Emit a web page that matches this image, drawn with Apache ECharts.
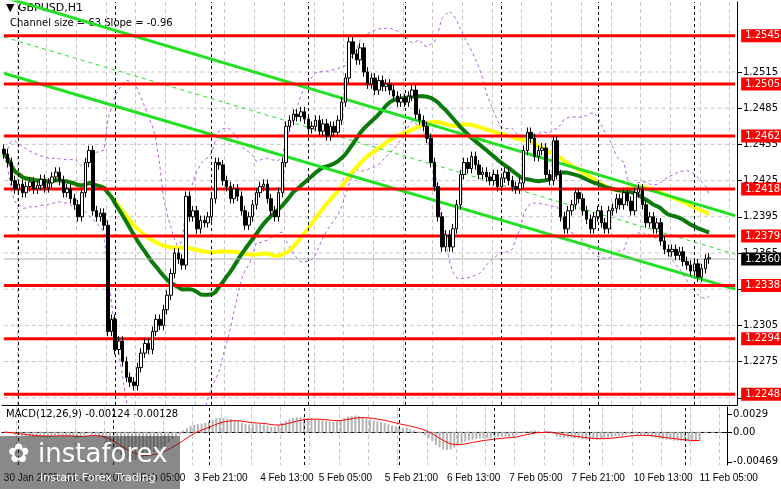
<!DOCTYPE html>
<html><head><meta charset="utf-8">
<script src="https://cdn.jsdelivr.net/npm/echarts@6/dist/echarts.min.js"></script>
<style>html,body{margin:0;padding:0;background:#fff}#c{width:781px;height:489px}</style>
</head><body><div id="c"></div>
<script>
const closes=[1.2447,1.2440,1.2425,1.2418,1.2422,1.2415,1.2420,1.2424,1.2418,1.2421,1.2426,1.2419,1.2423,1.2428,1.2432,
1.2425,1.2415,1.2418,1.2410,1.2405,1.2395,1.2415,1.2440,1.2450,1.2400,1.2395,1.2398,1.2388,
1.2300,1.2310,1.2285,1.2292,1.2275,1.2262,1.2258,1.2255,1.2270,1.2282,1.2290,1.2285,1.2300,1.2310,1.2305,1.2318,1.2330,1.2348,1.2365,1.2360,1.2355,1.2412,
1.2395,1.2400,1.2385,1.2392,1.2390,1.2395,1.2410,1.2440,1.2438,1.2425,1.2420,1.2410,1.2418,1.2412,1.2400,1.2388,1.2395,1.2405,1.2415,1.2420,1.2422,
1.2410,1.2400,1.2395,1.2415,1.2440,1.2470,1.2475,1.2480,1.2478,1.2482,1.2476,1.2468,1.2470,1.2475,1.2466,1.2472,1.2462,1.2470,1.2465,1.2475,1.2490,
1.2510,1.2540,1.2530,1.2525,1.2535,1.2515,1.2505,1.2510,1.2500,1.2508,1.2503,1.2505,1.2500,1.2495,1.2490,1.2493,1.2490,1.2495,1.2500,
1.2480,1.2475,1.2470,1.2460,1.2440,1.2420,1.2395,1.2370,1.2380,1.2370,1.2385,1.2405,1.2430,1.2440,1.2435,1.2445,1.2438,1.2430,1.2432,1.2428,
1.2425,1.2430,1.2420,1.2427,1.2432,1.2425,1.2420,1.2418,1.2423,1.2450,1.2465,1.2460,1.2445,1.2450,1.2452,1.2430,1.2425,1.2458,1.2430,1.2395,
1.2385,1.2400,1.2405,1.2415,1.2410,1.2400,1.2393,1.2385,1.2395,1.2400,1.2390,1.2385,1.2400,1.2402,1.2410,1.2405,1.2415,1.2408,1.2400,1.2415,
1.2418,1.2405,1.2390,1.2395,1.2385,1.2390,1.2375,1.2368,1.2366,1.2368,1.2363,1.2366,1.2358,1.2355,1.2350,1.2356,1.2345,1.2352,1.2360,1.2361];
const slotCount=198;
const levels=[1.2545,1.2505,1.2462,1.2418,1.2379,1.2338,1.2294,1.2248];
const priceTicks=[1.2515,1.2485,1.2455,1.2425,1.2395,1.2365,1.2335,1.2305,1.2275,1.2245];
const tickLabels=[[0,'30 Jan 2025'],[17,'31 Jan 13:00'],[35,'3 Feb 05:00'],[52,'3 Feb 21:00'],[70,'4 Feb 13:00'],[86,'5 Feb 05:00'],[104,'5 Feb 21:00'],[121,'6 Feb 13:00'],[138,'7 Feb 05:00'],[155,'7 Feb 21:00'],[172,'10 Feb 13:00'],[190,'11 Feb 05:00']];
const daySeps=[4,30,56,82,108,134,160,186];
const channelUpper=[[0,1.2577],[197,1.2396]];
const channelLower=[[0,1.2514],[197,1.2335]];
const channelMid=[[0,1.2544],[197,1.2364]];
const lastPrice=1.2360;
const macdTicks=[0.0029,0,-0.00469];

const cats=[];for(let i=0;i<slotCount;i++)cats.push(String(i));
const tl={};tickLabels.forEach(t=>tl[t[0]]=t[1]);
const ohlc=closes.map((c,i)=>{const o=i?closes[i-1]:c+0.0004;return [o,c,Math.min(o,c)-0.0004,Math.max(o,c)+0.0004];});
function sma(p){return closes.map((_,i)=>{const s=closes.slice(Math.max(0,i-p+1),i+1);return s.reduce((a,b)=>a+b,0)/s.length;});}
function bb(p,k){return closes.map((_,i)=>{const s=closes.slice(Math.max(0,i-p+1),i+1);const m=s.reduce((a,b)=>a+b,0)/s.length;const sd=Math.sqrt(s.reduce((a,b)=>a+(b-m)*(b-m),0)/s.length);return [m+k*sd,m-k*sd];});}
function ema(arr,p){const a=2/(p+1);let e=arr[0];return arr.map(v=>(e=e+a*(v-e)));}
const fast=sma(30),slow=sma(50),bands=bb(20,2.2);
const e12=ema(closes,12),e26=ema(closes,26);const macd=e12.map((v,i)=>v-e26[i]);
const macdS=ema(macd,9);
const font='DejaVu Sans';
const last=String(slotCount-1);
function hline(v,color,width,type,lbl,bg,z,xi){
  const s={type:'line',data:[['0',v],[last,v]],symbol:'none',silent:true,z:z,lineStyle:{color:color,width:width,type:type}};
  if(xi){s.xAxisIndex=1;s.yAxisIndex=1;}
  if(lbl){s.endLabel={show:true,formatter:lbl,color:'#fff',backgroundColor:bg,fontFamily:font,fontSize:10,padding:[2,4,1,4],distance:6};}
  return s;}
function sline(a,color,width,type){return {type:'line',data:a.map(p=>[String(p[0]),p[1]]),symbol:'none',silent:true,z:5,lineStyle:{color:color,width:width,type:type}};}
const series=[];
priceTicks.forEach(v=>series.push(hline(v,'#c8c8c8',1,[4,3],null,null,1)));
series.push(hline(0,'#c8c8c8',1,[4,3],null,null,1,true));
series.push({type:'line',data:[],markLine:{silent:true,symbol:'none',data:daySeps.map(i=>({xAxis:i,lineStyle:{color:'#000',type:[3,3],width:1},label:{show:false}}))}});
series.push({type:'line',xAxisIndex:1,yAxisIndex:1,data:[],markLine:{silent:true,symbol:'none',data:daySeps.map(i=>({xAxis:i,lineStyle:{color:'#000',type:[3,3],width:1},label:{show:false}}))}});
series.push({type:'line',data:bands.map(b=>b[0]),symbol:'none',lineStyle:{color:'#b45ee0',type:[3,3],width:1},z:2});
series.push({type:'line',data:bands.map(b=>b[1]),symbol:'none',lineStyle:{color:'#b45ee0',type:[3,3],width:1},z:2});
series.push({type:'line',data:slow,symbol:'none',lineStyle:{color:'#ffff00',width:4},z:3});
series.push({type:'line',data:fast,symbol:'none',lineStyle:{color:'#0a7a0a',width:4},z:4});
series.push(sline(channelUpper,'#22e022',3,'solid'));
series.push(sline(channelLower,'#22e022',3,'solid'));
series.push(sline(channelMid,'#22e022',1,[4,4]));
series.push(hline(lastPrice,'#aaaaaa',1,'solid',lastPrice.toFixed(4),'#000',6));
levels.forEach(v=>series.push(hline(v,'#ff0000',3,'solid',v.toFixed(4),'#ff0000',7)));
series.push({type:'candlestick',data:ohlc,barWidth:3,z:8,itemStyle:{color:'#fff',color0:'#000',borderColor:'#000',borderColor0:'#000',borderWidth:1}});
series.push({type:'bar',xAxisIndex:1,yAxisIndex:1,data:macd,barWidth:2,itemStyle:{color:'#b4b4b4'}});
series.push({type:'line',xAxisIndex:1,yAxisIndex:1,data:macdS,symbol:'none',lineStyle:{color:'#ff0000',width:1}});
const chart=echarts.init(document.getElementById('c'));
chart.setOption({
animation:false,backgroundColor:'#fff',
grid:[{left:2,top:2,width:739,height:403},{left:2,top:407,width:739,height:58}],
xAxis:[{type:'category',data:cats,gridIndex:0,boundaryGap:true,axisLabel:{show:false},axisTick:{show:false},axisLine:{lineStyle:{color:'#000'}},
 splitLine:{show:true,interval:i=>i%8===4,lineStyle:{color:'#c8c8c8',type:[4,3]}}},
 {type:'category',data:cats,gridIndex:1,boundaryGap:true,axisLine:{lineStyle:{color:'#000'}},axisTick:{show:false},
 splitLine:{show:true,interval:i=>i%8===4,lineStyle:{color:'#c8c8c8',type:[4,3]}},
 axisLabel:{interval:0,formatter:(v,i)=>tl[i]||'',align:'left',color:'#000',fontFamily:'Liberation Sans',fontSize:10,margin:8,hideOverlap:false}}],
yAxis:[{type:'value',gridIndex:0,position:'right',min:1.2239,max:1.2573,splitLine:{show:false},axisLine:{show:true,lineStyle:{color:'#000'}},
 axisTick:{show:true,customValues:priceTicks,lineStyle:{color:'#000'}},axisLabel:{customValues:priceTicks,formatter:v=>v.toFixed(4),color:'#000',fontFamily:font,fontSize:10,margin:6}},
 {type:'value',gridIndex:1,position:'right',min:-0.0052,max:0.0040,splitLine:{show:false},axisLine:{show:true,lineStyle:{color:'#000'}},
 axisTick:{show:true,customValues:macdTicks,lineStyle:{color:'#000'}},axisLabel:{customValues:macdTicks,formatter:v=>v===0?'0.00':String(v),color:'#000',fontFamily:font,fontSize:10,margin:6}}],
series:series,
graphic:[
{type:'text',left:6,top:3,style:{text:'▼ GBPUSD,H1',font:'11px "DejaVu Sans"',fill:'#000'}},
{type:'text',left:10,top:18,style:{text:'Channel size = 63 Slope = -0.96',font:'10px "DejaVu Sans"',fill:'#000'}},
{type:'text',left:6,top:409,style:{text:'MACD(12,26,9) -0.00124 -0.00128',font:'10px "DejaVu Sans"',fill:'#000'}},
{type:'rect',shape:{x:0,y:436,width:180,height:53},style:{fill:'rgba(40,40,40,0.55)'},z:100},
{type:'text',left:8,top:442,z:101,style:{text:'✿ instaforex',font:'26px "DejaVu Sans"',fill:'#fff'}},
{type:'text',left:40,top:473,z:101,style:{text:'Instant Forex Trading',font:'11px "DejaVu Sans"',fill:'#fff'}}
]});
</script></body></html>
